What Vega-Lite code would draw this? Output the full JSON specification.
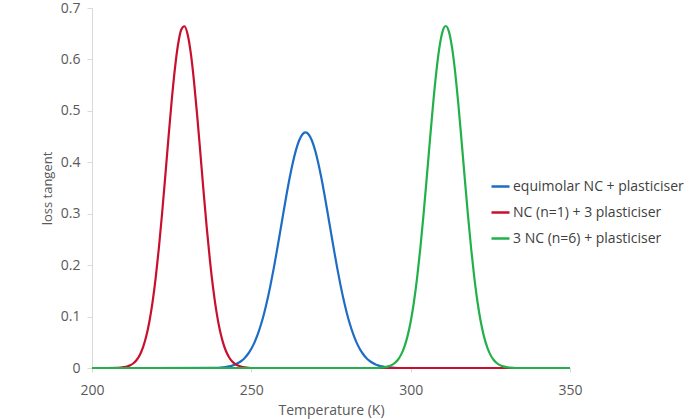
{
  "$schema": "https://vega.github.io/schema/vega-lite/v6.json",
  "width": 478,
  "height": 360,
  "autosize": {"type": "none"},
  "padding": {"left": 92, "top": 8, "right": 130, "bottom": 51},
  "background": "white",
  "config": {
    "view": {"stroke": null},
    "font": "Open Sans",
    "axis": {"labelFont": "Open Sans", "titleFont": "Open Sans", "labelColor": "#595959", "titleColor": "#595959", "titleFontWeight": "normal", "grid": false, "domainColor": "#d9d9d9", "tickColor": "#d9d9d9", "labelFlush": false}
  },
  "datasets": {
    "curves": [
      {"T": 200, "tan": 0, "s": "equimolar NC + plasticiser"},
      {"T": 239, "tan": 0.0001, "s": "equimolar NC + plasticiser"},
      {"T": 241, "tan": 0.0013, "s": "equimolar NC + plasticiser"},
      {"T": 242, "tan": 0.0020, "s": "equimolar NC + plasticiser"},
      {"T": 243, "tan": 0.0031, "s": "equimolar NC + plasticiser"},
      {"T": 244, "tan": 0.0047, "s": "equimolar NC + plasticiser"},
      {"T": 245, "tan": 0.0069, "s": "equimolar NC + plasticiser"},
      {"T": 246, "tan": 0.0101, "s": "equimolar NC + plasticiser"},
      {"T": 247, "tan": 0.0144, "s": "equimolar NC + plasticiser"},
      {"T": 248, "tan": 0.0201, "s": "equimolar NC + plasticiser"},
      {"T": 249, "tan": 0.0277, "s": "equimolar NC + plasticiser"},
      {"T": 250, "tan": 0.0375, "s": "equimolar NC + plasticiser"},
      {"T": 251, "tan": 0.0499, "s": "equimolar NC + plasticiser"},
      {"T": 252, "tan": 0.0653, "s": "equimolar NC + plasticiser"},
      {"T": 253, "tan": 0.0840, "s": "equimolar NC + plasticiser"},
      {"T": 254, "tan": 0.1061, "s": "equimolar NC + plasticiser"},
      {"T": 255, "tan": 0.1317, "s": "equimolar NC + plasticiser"},
      {"T": 256, "tan": 0.1607, "s": "equimolar NC + plasticiser"},
      {"T": 257, "tan": 0.1927, "s": "equimolar NC + plasticiser"},
      {"T": 258, "tan": 0.2272, "s": "equimolar NC + plasticiser"},
      {"T": 259, "tan": 0.2632, "s": "equimolar NC + plasticiser"},
      {"T": 260, "tan": 0.2997, "s": "equimolar NC + plasticiser"},
      {"T": 261, "tan": 0.3354, "s": "equimolar NC + plasticiser"},
      {"T": 262, "tan": 0.3689, "s": "equimolar NC + plasticiser"},
      {"T": 263, "tan": 0.3988, "s": "equimolar NC + plasticiser"},
      {"T": 264, "tan": 0.4237, "s": "equimolar NC + plasticiser"},
      {"T": 265, "tan": 0.4424, "s": "equimolar NC + plasticiser"},
      {"T": 266, "tan": 0.4541, "s": "equimolar NC + plasticiser"},
      {"T": 267, "tan": 0.4580, "s": "equimolar NC + plasticiser"},
      {"T": 268, "tan": 0.4541, "s": "equimolar NC + plasticiser"},
      {"T": 269, "tan": 0.4424, "s": "equimolar NC + plasticiser"},
      {"T": 270, "tan": 0.4237, "s": "equimolar NC + plasticiser"},
      {"T": 271, "tan": 0.3988, "s": "equimolar NC + plasticiser"},
      {"T": 272, "tan": 0.3689, "s": "equimolar NC + plasticiser"},
      {"T": 273, "tan": 0.3354, "s": "equimolar NC + plasticiser"},
      {"T": 274, "tan": 0.2997, "s": "equimolar NC + plasticiser"},
      {"T": 275, "tan": 0.2632, "s": "equimolar NC + plasticiser"},
      {"T": 276, "tan": 0.2272, "s": "equimolar NC + plasticiser"},
      {"T": 277, "tan": 0.1927, "s": "equimolar NC + plasticiser"},
      {"T": 278, "tan": 0.1607, "s": "equimolar NC + plasticiser"},
      {"T": 279, "tan": 0.1317, "s": "equimolar NC + plasticiser"},
      {"T": 280, "tan": 0.1061, "s": "equimolar NC + plasticiser"},
      {"T": 281, "tan": 0.0840, "s": "equimolar NC + plasticiser"},
      {"T": 282, "tan": 0.0653, "s": "equimolar NC + plasticiser"},
      {"T": 283, "tan": 0.0499, "s": "equimolar NC + plasticiser"},
      {"T": 284, "tan": 0.0375, "s": "equimolar NC + plasticiser"},
      {"T": 285, "tan": 0.0277, "s": "equimolar NC + plasticiser"},
      {"T": 286, "tan": 0.0201, "s": "equimolar NC + plasticiser"},
      {"T": 287, "tan": 0.0144, "s": "equimolar NC + plasticiser"},
      {"T": 288, "tan": 0.0101, "s": "equimolar NC + plasticiser"},
      {"T": 289, "tan": 0.0069, "s": "equimolar NC + plasticiser"},
      {"T": 290, "tan": 0.0047, "s": "equimolar NC + plasticiser"},
      {"T": 291, "tan": 0.0031, "s": "equimolar NC + plasticiser"},
      {"T": 292, "tan": 0.0020, "s": "equimolar NC + plasticiser"},
      {"T": 293, "tan": 0.0013, "s": "equimolar NC + plasticiser"},
      {"T": 296, "tan": 0.0, "s": "equimolar NC + plasticiser"},

      {"T": 200, "tan": 0, "s": "NC (n=1) + 3 plasticiser"},
      {"T": 208, "tan": 0.0005, "s": "NC (n=1) + 3 plasticiser"},
      {"T": 210, "tan": 0.0016, "s": "NC (n=1) + 3 plasticiser"},
      {"T": 211, "tan": 0.0029, "s": "NC (n=1) + 3 plasticiser"},
      {"T": 212, "tan": 0.0053, "s": "NC (n=1) + 3 plasticiser"},
      {"T": 213, "tan": 0.0092, "s": "NC (n=1) + 3 plasticiser"},
      {"T": 214, "tan": 0.0155, "s": "NC (n=1) + 3 plasticiser"},
      {"T": 215, "tan": 0.0254, "s": "NC (n=1) + 3 plasticiser"},
      {"T": 216, "tan": 0.0401, "s": "NC (n=1) + 3 plasticiser"},
      {"T": 217, "tan": 0.0611, "s": "NC (n=1) + 3 plasticiser"},
      {"T": 218, "tan": 0.0900, "s": "NC (n=1) + 3 plasticiser"},
      {"T": 219, "tan": 0.1281, "s": "NC (n=1) + 3 plasticiser"},
      {"T": 220, "tan": 0.1763, "s": "NC (n=1) + 3 plasticiser"},
      {"T": 221, "tan": 0.2343, "s": "NC (n=1) + 3 plasticiser"},
      {"T": 222, "tan": 0.3009, "s": "NC (n=1) + 3 plasticiser"},
      {"T": 223, "tan": 0.3735, "s": "NC (n=1) + 3 plasticiser"},
      {"T": 224, "tan": 0.4479, "s": "NC (n=1) + 3 plasticiser"},
      {"T": 225, "tan": 0.5192, "s": "NC (n=1) + 3 plasticiser"},
      {"T": 226, "tan": 0.5813, "s": "NC (n=1) + 3 plasticiser"},
      {"T": 227, "tan": 0.6291, "s": "NC (n=1) + 3 plasticiser"},
      {"T": 228, "tan": 0.6578, "s": "NC (n=1) + 3 plasticiser"},
      {"T": 229, "tan": 0.6645, "s": "NC (n=1) + 3 plasticiser"},
      {"T": 230, "tan": 0.6488, "s": "NC (n=1) + 3 plasticiser"},
      {"T": 231, "tan": 0.6121, "s": "NC (n=1) + 3 plasticiser"},
      {"T": 232, "tan": 0.5579, "s": "NC (n=1) + 3 plasticiser"},
      {"T": 233, "tan": 0.4914, "s": "NC (n=1) + 3 plasticiser"},
      {"T": 234, "tan": 0.4183, "s": "NC (n=1) + 3 plasticiser"},
      {"T": 235, "tan": 0.3440, "s": "NC (n=1) + 3 plasticiser"},
      {"T": 236, "tan": 0.2734, "s": "NC (n=1) + 3 plasticiser"},
      {"T": 237, "tan": 0.2099, "s": "NC (n=1) + 3 plasticiser"},
      {"T": 238, "tan": 0.1558, "s": "NC (n=1) + 3 plasticiser"},
      {"T": 239, "tan": 0.1117, "s": "NC (n=1) + 3 plasticiser"},
      {"T": 240, "tan": 0.0774, "s": "NC (n=1) + 3 plasticiser"},
      {"T": 241, "tan": 0.0518, "s": "NC (n=1) + 3 plasticiser"},
      {"T": 242, "tan": 0.0335, "s": "NC (n=1) + 3 plasticiser"},
      {"T": 243, "tan": 0.0210, "s": "NC (n=1) + 3 plasticiser"},
      {"T": 244, "tan": 0.0127, "s": "NC (n=1) + 3 plasticiser"},
      {"T": 245, "tan": 0.0074, "s": "NC (n=1) + 3 plasticiser"},
      {"T": 246, "tan": 0.0042, "s": "NC (n=1) + 3 plasticiser"},
      {"T": 247, "tan": 0.0023, "s": "NC (n=1) + 3 plasticiser"},
      {"T": 248, "tan": 0.0012, "s": "NC (n=1) + 3 plasticiser"},
      {"T": 250, "tan": 0, "s": "NC (n=1) + 3 plasticiser"},
      {"T": 333, "tan": 0, "s": "NC (n=1) + 3 plasticiser"},

      {"T": 200, "tan": 0, "s": "3 NC (n=6) + plasticiser"},
      {"T": 289, "tan": 0.0, "s": "3 NC (n=6) + plasticiser"},
      {"T": 291, "tan": 0.0009, "s": "3 NC (n=6) + plasticiser"},
      {"T": 292, "tan": 0.0017, "s": "3 NC (n=6) + plasticiser"},
      {"T": 293, "tan": 0.0031, "s": "3 NC (n=6) + plasticiser"},
      {"T": 294, "tan": 0.0056, "s": "3 NC (n=6) + plasticiser"},
      {"T": 295, "tan": 0.0097, "s": "3 NC (n=6) + plasticiser"},
      {"T": 296, "tan": 0.0161, "s": "3 NC (n=6) + plasticiser"},
      {"T": 297, "tan": 0.0260, "s": "3 NC (n=6) + plasticiser"},
      {"T": 298, "tan": 0.0407, "s": "3 NC (n=6) + plasticiser"},
      {"T": 299, "tan": 0.0615, "s": "3 NC (n=6) + plasticiser"},
      {"T": 300, "tan": 0.0900, "s": "3 NC (n=6) + plasticiser"},
      {"T": 301, "tan": 0.1274, "s": "3 NC (n=6) + plasticiser"},
      {"T": 302, "tan": 0.1744, "s": "3 NC (n=6) + plasticiser"},
      {"T": 303, "tan": 0.2309, "s": "3 NC (n=6) + plasticiser"},
      {"T": 304, "tan": 0.2959, "s": "3 NC (n=6) + plasticiser"},
      {"T": 305, "tan": 0.3668, "s": "3 NC (n=6) + plasticiser"},
      {"T": 306, "tan": 0.4399, "s": "3 NC (n=6) + plasticiser"},
      {"T": 307, "tan": 0.5104, "s": "3 NC (n=6) + plasticiser"},
      {"T": 308, "tan": 0.5731, "s": "3 NC (n=6) + plasticiser"},
      {"T": 309, "tan": 0.6224, "s": "3 NC (n=6) + plasticiser"},
      {"T": 310, "tan": 0.6541, "s": "3 NC (n=6) + plasticiser"},
      {"T": 311, "tan": 0.6650, "s": "3 NC (n=6) + plasticiser"},
      {"T": 312, "tan": 0.6541, "s": "3 NC (n=6) + plasticiser"},
      {"T": 313, "tan": 0.6224, "s": "3 NC (n=6) + plasticiser"},
      {"T": 314, "tan": 0.5731, "s": "3 NC (n=6) + plasticiser"},
      {"T": 315, "tan": 0.5104, "s": "3 NC (n=6) + plasticiser"},
      {"T": 316, "tan": 0.4399, "s": "3 NC (n=6) + plasticiser"},
      {"T": 317, "tan": 0.3668, "s": "3 NC (n=6) + plasticiser"},
      {"T": 318, "tan": 0.2959, "s": "3 NC (n=6) + plasticiser"},
      {"T": 319, "tan": 0.2309, "s": "3 NC (n=6) + plasticiser"},
      {"T": 320, "tan": 0.1744, "s": "3 NC (n=6) + plasticiser"},
      {"T": 321, "tan": 0.1274, "s": "3 NC (n=6) + plasticiser"},
      {"T": 322, "tan": 0.0900, "s": "3 NC (n=6) + plasticiser"},
      {"T": 323, "tan": 0.0615, "s": "3 NC (n=6) + plasticiser"},
      {"T": 324, "tan": 0.0407, "s": "3 NC (n=6) + plasticiser"},
      {"T": 325, "tan": 0.0260, "s": "3 NC (n=6) + plasticiser"},
      {"T": 326, "tan": 0.0161, "s": "3 NC (n=6) + plasticiser"},
      {"T": 327, "tan": 0.0097, "s": "3 NC (n=6) + plasticiser"},
      {"T": 328, "tan": 0.0056, "s": "3 NC (n=6) + plasticiser"},
      {"T": 329, "tan": 0.0031, "s": "3 NC (n=6) + plasticiser"},
      {"T": 330, "tan": 0.0017, "s": "3 NC (n=6) + plasticiser"},
      {"T": 331, "tan": 0.0009, "s": "3 NC (n=6) + plasticiser"},
      {"T": 333, "tan": 0.0, "s": "3 NC (n=6) + plasticiser"},
      {"T": 350, "tan": 0, "s": "3 NC (n=6) + plasticiser"}
    ]
  },
  "data": {"name": "curves"},
  "mark": {"type": "line", "strokeWidth": 2.2, "interpolate": "monotone", "clip": false},
  "encoding": {
    "x": {
      "field": "T", "type": "quantitative",
      "scale": {"domain": [200, 350], "nice": false, "zero": false},
      "axis": {"title": "Temperature (K)", "values": [200, 250, 300, 350], "format": "d", "labelFontSize": 14, "titleFontSize": 14, "tickSize": 4, "labelPadding": 11, "titlePadding": 6, "domain": true}
    },
    "y": {
      "field": "tan", "type": "quantitative",
      "scale": {"domain": [0, 0.7], "nice": false},
      "axis": {"title": "loss tangent", "values": [0, 0.1, 0.2, 0.3, 0.4, 0.5, 0.6, 0.7], "labelFontSize": 14, "titleFontSize": 13, "tickSize": 5, "labelPadding": 7, "titlePadding": 6,
        "labelExpr": "datum.value == 0 ? '0' : format(datum.value, '.1f')"}
    },
    "color": {
      "field": "s", "type": "nominal",
      "scale": {"domain": ["equimolar NC + plasticiser", "NC (n=1) + 3 plasticiser", "3 NC (n=6) + plasticiser"], "range": ["#1f6cc5", "#c8102e", "#22b04a"]},
      "legend": {"title": null, "orient": "none", "legendX": 398, "legendY": 168, "symbolType": "stroke", "symbolSize": 324, "symbolStrokeWidth": 2.5, "labelFontSize": 14, "labelColor": "#404040", "labelFont": "Open Sans", "rowPadding": 8, "labelOffset": 2, "labelLimit": 300}
    },
    "order": {"field": "T", "type": "quantitative"}
  }
}
